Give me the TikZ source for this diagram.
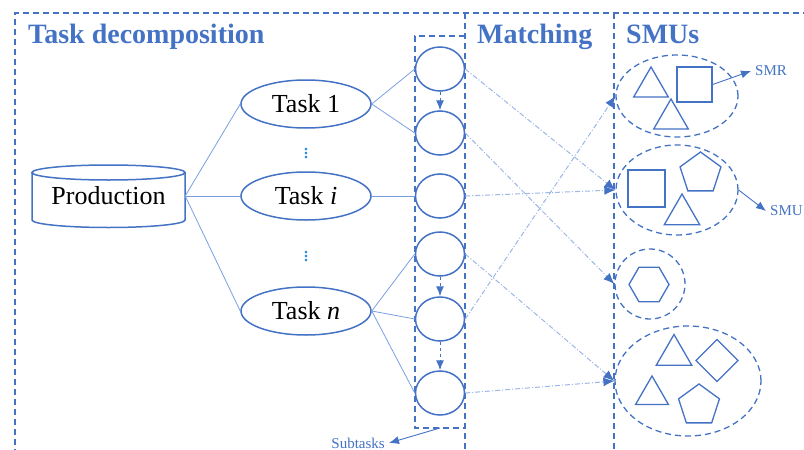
\documentclass[tikz,border=0pt]{standalone}
\usepackage{fontspec}
\setmainfont{Liberation Serif}
\usetikzlibrary{positioning,shapes.geometric,arrows.meta}

\definecolor{smublue}{HTML}{4472C4}
\definecolor{linkblue}{HTML}{7A9FE0}
\definecolor{matchblue}{HTML}{9DB6E6}
\definecolor{dotblue}{HTML}{2F8FDB}

\tikzset{
  zoneline/.style={smublue, line width=1.3pt, dash pattern=on 6pt off 4pt},
  headline/.style={anchor=base west, text=smublue, inner sep=0pt, font=\fontsize{28}{32}\selectfont\bfseries},
  task/.style={ellipse, draw=smublue, line width=1.5pt, minimum width=130pt, minimum height=48pt, inner sep=0pt, font=\fontsize{26}{30}\selectfont},
  subtask/.style={ellipse, draw=smublue, line width=1.5pt, minimum width=49pt, minimum height=44pt, inner sep=0pt},
  smugroup/.style={ellipse, draw=smublue, line width=1.3pt, dash pattern=on 6pt off 4pt, inner sep=0pt},
  unit/.style={regular polygon, draw=smublue, line width=1.3pt, inner sep=0pt},
  box/.style={rectangle, draw=smublue, line width=1.3pt, inner sep=0pt},
  vdotsmark/.style={text=dotblue, inner sep=0pt, font=\fontsize{22}{24}\selectfont},
  link/.style={linkblue, line width=0.8pt},
  matchline/.style={matchblue, line width=1pt, dash pattern=on 5pt off 2pt on 1pt off 2pt, -{Latex[length=11pt,width=9pt,color=smublue]}},
  seqarrow/.style={smublue, line width=1pt, dashed, -{Latex[length=10pt,width=8pt]}},
  smalltag/.style={text=smublue, inner sep=4pt, font=\fontsize{15}{18}\selectfont},
  tagarrow/.style={smublue, line width=0.9pt, -{Latex[length=10pt,width=8pt]}},
}

\begin{document}
\begin{tikzpicture}[x=1pt, y=1pt]
  \useasboundingbox (0,0) rectangle (804,-450);

  % zones
  \draw[zoneline] (15,-455) -- (15,-13) -- (810,-13);
  \draw[zoneline] (465,-13) -- (465,-455);
  \draw[zoneline] (614,-13) -- (614,-455);
  \node[headline] (hdtask) at (28,-43) {Task decomposition};
  \node[headline] (hdmatch) at (477,-43) {Matching};
  \node[headline] (hdsmu) at (626,-43) {SMUs};

  % production and tasks
  \node[minimum width=153pt, minimum height=62pt, inner sep=0pt, font=\fontsize{26}{30}\selectfont] (prod) at (108.5,-196) {\raisebox{-4pt}{Production}};
  \draw[smublue, line width=1.5pt] (32,-172.5) -- (32,-220) arc[start angle=180, end angle=360, x radius=76.5, y radius=7.5] -- (185,-172.5);
  \draw[smublue, line width=1.5pt] (108.5,-172.5) ellipse [x radius=76.5, y radius=7.5];

  \node[task, right of=prod, node distance=197.5pt] (ti) {Task \textit{i}};
  \node[task, above of=ti, node distance=92pt] (t1) {Task 1};
  \node[task, below of=ti, node distance=115pt] (tn) {Task \textit{n}};
  \node[vdotsmark, below of=t1, node distance=47pt] (vd1) {$\vdots$};
  \node[vdotsmark, below of=ti, node distance=58pt] (vd2) {$\vdots$};

  % subtasks
  \node[subtask, right of=ti, node distance=134pt] (s3) {};
  \node[subtask, above of=s3, node distance=63pt] (s2) {};
  \node[subtask, above of=s2, node distance=64pt] (s1) {};
  \node[subtask, below of=s3, node distance=58pt] (s4) {};
  \node[subtask, below of=s4, node distance=65pt] (s5) {};
  \node[subtask, below of=s5, node distance=74pt] (s6) {};
  \draw[zoneline] (465,-36) -- (415,-36) -- (415,-428) -- (465,-428);
  \coordinate (boxfoot) at (440,-428);

  % SMU groups
  \node[smugroup, minimum width=122pt, minimum height=82pt] (g1) at (677,-96) {};
  \node[smugroup, minimum width=122pt, minimum height=90pt] (g2) at (677,-190) {};
  \node[smugroup, minimum size=70pt] (g3) at (650,-284) {};
  \node[smugroup, minimum width=146pt, minimum height=110pt] (g4) at (688,-381) {};

  \node[unit, regular polygon sides=3, minimum size=40pt] (g1a) at (651,-87) {};
  \node[box, minimum size=35pt] (g1b) at (694.5,-84.5) {};
  \node[unit, regular polygon sides=3, minimum size=40pt] (g1c) at (671,-119) {};

  \node[box, minimum size=37pt] (g2a) at (646.5,-188.5) {};
  \node[unit, regular polygon sides=5, minimum size=43pt] (g2b) at (700.5,-173.5) {};
  \node[unit, regular polygon sides=3, minimum size=41pt] (g2c) at (682,-214.5) {};

  \node[unit, regular polygon sides=6, minimum size=40pt] (g3a) at (649,-284.5) {};

  \node[unit, regular polygon sides=3, minimum size=41pt] (g4a) at (674,-355) {};
  \node[unit, regular polygon sides=4, shape border rotate=45, minimum size=42pt] (g4b) at (717,-360.5) {};
  \node[unit, regular polygon sides=3, minimum size=38pt] (g4c) at (652,-395) {};
  \node[unit, regular polygon sides=5, minimum size=43pt] (g4d) at (699,-405.5) {};

  % labels
  \node[smalltag, anchor=west] (smr) at (751,-71) {SMR};
  \node[smalltag, anchor=west] (smu) at (766,-211) {SMU};
  \node[smalltag, anchor=east] (subl) at (389,-443) {Subtasks};

  % connectors
  \draw[link] (prod.east) edge (t1.west) edge (ti.west) edge (tn.west);
  \draw[link] (t1.east) edge (s1.west) edge (s2.west);
  \draw[link] (ti.east) -- (s3.west);
  \draw[link] (tn.east) edge (s4.west) edge (s5.west) edge (s6.west);

  \draw[seqarrow] (s1.south) -- (s2.north);
  \draw[seqarrow] (s4.south) -- (s5.north);
  \draw[seqarrow] (s5.south) -- (s6.north);

  \draw[matchline] (s1.east) -- (g2.west);
  \draw[matchline] (s2.east) -- (g3.west);
  \draw[matchline] (s3.east) -- (g2.west);
  \draw[matchline] (s4.east) -- (g4.west);
  \draw[matchline] (s5.east) -- (g1.west);
  \draw[matchline] (s6.east) -- (g4.west);

  \draw[tagarrow] (g1b.east) -- (smr.west);
  \draw[tagarrow] (g2.east) -- (smu.west);
  \draw[tagarrow] (boxfoot) -- (subl.east);
\end{tikzpicture}
\end{document}
